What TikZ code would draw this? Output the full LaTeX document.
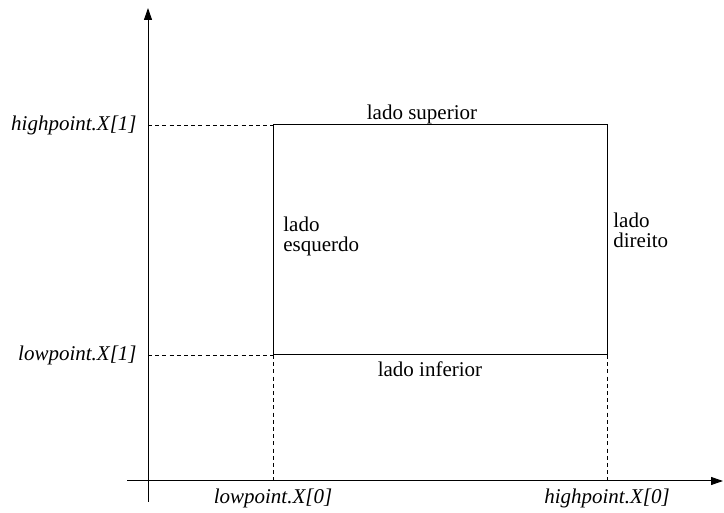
\documentclass[tikz,border=0pt]{standalone}
\usepackage{fontspec}
\setmainfont{Liberation Serif}
\usetikzlibrary{arrows.meta, positioning}

\begin{document}
\begin{tikzpicture}[x=0.5pt, y=-0.5pt,
        axis/.style={draw, -{Triangle[length=6pt, width=4pt]}, line width=0.5pt},
        side/.style={draw, line width=0.5pt},
        guide/.style={draw, line width=0.4pt, dash pattern=on 2pt off 1.6pt},
        coordlabel/.style={font=\itshape\fontsize{10.5}{12.6}\selectfont, inner sep=0pt},
        sidelabel/.style={font=\fontsize{10.5}{10}\selectfont, align=left, inner sep=0pt}
        ]
        \useasboundingbox (0,0) rectangle (724,513);

        % Points
        \coordinate (xstart) at (127,481);
        \coordinate (xend) at (723,481);
        \coordinate (ystart) at (148,502);
        \coordinate (yend) at (148,8);
        \coordinate (low) at (273,355);
        \coordinate (high) at (607,125);
        \coordinate (lowleft) at (273,125);
        \coordinate (highright) at (607,355);
        \coordinate (yhigh) at (148,125);
        \coordinate (ylow) at (148,355);
        \coordinate (xlow) at (273,481);
        \coordinate (xhigh) at (607,481);

        % Axes
        \draw [axis] (xstart) -- (xend);
        \draw [axis] (ystart) -- (yend);

        % Box
        \draw [side] (low) rectangle (high);

        % Guides
        \draw [guide] (yhigh) -- (lowleft);
        \draw [guide] (ylow) -- (low);
        \draw [guide] (low) -- (xlow);
        \draw [guide] (highright) -- (xhigh);

        % Labels
        \node (hiy) [coordlabel, anchor=east] at (137,125) {highpoint.X[1]};
        \node (loy) [coordlabel, anchor=east] at (137,355) {lowpoint.X[1]};
        \node (lox) [coordlabel] at (273,498) {lowpoint.X[0]};
        \node (hix) [coordlabel] at (607,498) {highpoint.X[0]};
        \node (sup) [sidelabel] at (422,114) {lado superior};
        \node (inf) [sidelabel] at (430,369) {lado inferior};
        \node (esq) [sidelabel, anchor=west] at (283,236) {lado\\esquerdo};
        \node (dir) [sidelabel, anchor=west] at (613,230) {lado\\direito};

    \end{tikzpicture}
\end{document}
